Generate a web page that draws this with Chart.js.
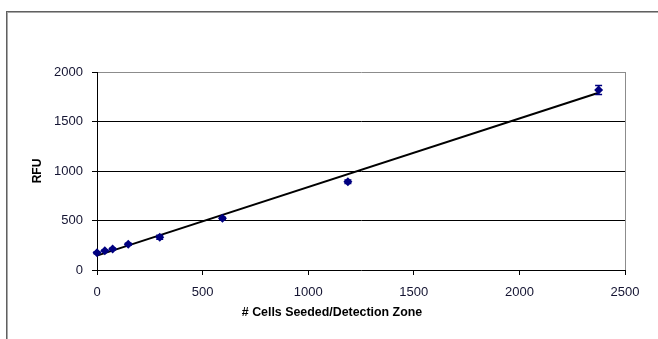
<!DOCTYPE html>
<html>
<head>
<meta charset="utf-8">
<script src="https://cdn.jsdelivr.net/npm/chart.js@4/dist/chart.umd.min.js"></script>
<style>
  html, body { margin: 0; padding: 0; background: #fff; overflow: hidden; }
  #frame { position: absolute; left: 6px; top: 11px; width: 700px; height: 400px;
           border-top: 1px solid #606060; border-left: 1px solid #606060; }
  #frame2 { position: absolute; left: 7px; top: 12px; width: 700px; height: 400px;
           border-top: 1px solid #a8a8a8; border-left: 1px solid #a8a8a8; }
  #c { position: absolute; left: 0; top: 0; }
</style>
</head>
<body>
<div id="frame"></div>
<div id="frame2"></div>
<canvas id="c" width="658" height="339"></canvas>
<script>
// Data
const cellsSeeded = [0, 37, 74, 148, 297, 594, 1188, 2375];
const rfuValues   = [175, 195, 212, 260, 330, 522, 892, 1818];
const rfuErrors   = [10, 8, 8, 10, 20, 12, 18, 45];
// Linear trendline endpoints
const trendX = [0, 2375];
const trendY = [145, 1790];
const xTicks = [0, 500, 1000, 1500, 2000, 2500];
const yTicks = [0, 500, 1000, 1500, 2000];
const xTitle = '# Cells Seeded/Detection Zone';
const yTitle = 'RFU';

const navy = '#000080';
const tickFont = { family: '"Liberation Sans", Arial, sans-serif', size: 13 };
const titleFont = { family: '"Liberation Sans", Arial, sans-serif', size: 12, weight: 'bold' };

const errorBars = {
  id: 'errorBars',
  afterDatasetsDraw(chart) {
    const ctx = chart.ctx, xs = chart.scales.x, ys = chart.scales.y;
    ctx.save();
    ctx.strokeStyle = navy;
    ctx.lineWidth = 1.5;
    cellsSeeded.forEach((cx, i) => {
      const px = xs.getPixelForValue(cx);
      const top = ys.getPixelForValue(rfuValues[i] + rfuErrors[i]);
      const bot = ys.getPixelForValue(rfuValues[i] - rfuErrors[i]);
      ctx.beginPath();
      ctx.moveTo(px, top); ctx.lineTo(px, bot);
      ctx.moveTo(px - 3.5, top); ctx.lineTo(px + 3.5, top);
      ctx.moveTo(px - 3.5, bot); ctx.lineTo(px + 3.5, bot);
      ctx.stroke();
    });
    ctx.restore();
  }
};

const xTitlePlugin = {
  id: 'xTitle',
  afterDraw(chart) {
    const ctx = chart.ctx;
    ctx.save();
    ctx.font = 'bold 12.4px "Liberation Sans", Arial, sans-serif';
    ctx.fillStyle = '#000';
    ctx.textAlign = 'center';
    ctx.textBaseline = 'middle';
    ctx.fillText(xTitle, 332, 313);
    ctx.restore();
  }
};

new Chart(document.getElementById('c'), {
  type: 'scatter',
  data: {
    datasets: [
      {
        type: 'scatter',
        data: cellsSeeded.map((x, i) => ({ x, y: rfuValues[i] })),
        pointStyle: 'rectRot',
        pointRadius: 4.5,
        backgroundColor: navy,
        borderColor: navy,
        borderWidth: 0,
        clip: false,
        order: 1
      },
      {
        type: 'line',
        data: trendX.map((x, i) => ({ x, y: trendY[i] })),
        borderColor: '#000',
        borderWidth: 2,
        pointRadius: 0,
        fill: false,
        clip: false,
        order: 2
      }
    ]
  },
  options: {
    responsive: false,
    animation: false,
    devicePixelRatio: 1,
    layout: { padding: { top: 72, right: 33, left: 0, bottom: 0 } },
    plugins: { legend: { display: false }, tooltip: { enabled: false } },
    scales: {
      x: {
        type: 'linear',
        min: 0, max: 2500,
        afterBuildTicks: s => { s.ticks = xTicks.map(v => ({ value: v })); },
        afterFit: s => { s.height = 69; },
        ticks: { font: tickFont, color: '#141432', padding: 10, maxRotation: 0, callback: v => String(v) },
        grid: {
          color: c => (c.tick && c.tick.value === 2500) ? '#8c8c8c' : 'rgba(0,0,0,0)',
          tickColor: '#000',
          tickLength: 5,
          lineWidth: 1
        },
        border: { color: '#000', width: 1 },
        title: { display: false }
      },
      y: {
        type: 'linear',
        min: 0, max: 2000,
        afterBuildTicks: s => { s.ticks = yTicks.map(v => ({ value: v })); },
        afterFit: s => { s.width = 97; },
        ticks: { font: tickFont, color: '#141432', padding: 9, callback: v => String(v) },
        grid: {
          color: c => (c.tick && c.tick.value === 2000) ? '#8c8c8c' : (c.tick && c.tick.value === 0 ? 'rgba(0,0,0,0)' : '#000'),
          tickColor: '#000',
          tickLength: 5,
          lineWidth: 1
        },
        border: { color: '#000', width: 1 },
        title: { display: true, text: yTitle, font: titleFont, color: '#000', padding: { top: 30, bottom: 0 } }
      }
    }
  },
  plugins: [errorBars, xTitlePlugin]
});
</script>
</body>
</html>
